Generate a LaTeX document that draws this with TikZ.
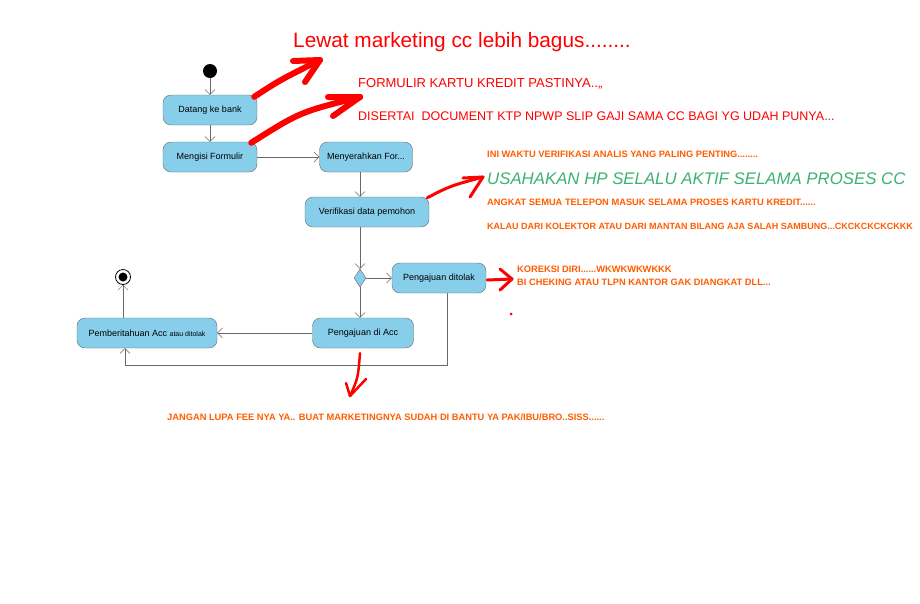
\documentclass[tikz,border=0pt]{standalone}
\usepackage[svgnames]{xcolor}
\usepackage{fontspec}
\setmainfont{Liberation Sans}
\usetikzlibrary{
  arrows.meta,
  shapes.geometric
}
\colorlet{activityFill}{SkyBlue}
\colorlet{activityLine}{DimGray}
\colorlet{flowLine}{DimGray}
\colorlet{noteRed}{Red}
\colorlet{noteOrange}{OrangeRed!75!Orange}
\colorlet{noteGreen}{MediumSeaGreen}
\colorlet{scribble}{Red}

\begin{document}
\begin{tikzpicture}[
  x=1pt,y=-1pt,
  activity/.style={
    draw=activityLine,
    fill=activityFill,
    rounded corners=8pt,
    minimum height=30pt,
    inner sep=0pt,
    font=\fontsize{9}{11}\selectfont,
  },
  flow/.style={
    draw=flowLine,
    -{Straight Barb[length=5pt,width=10pt]},
  },
  note/.style={
    anchor=west,
    inner sep=0pt,
  },
  small note/.style={
    note,
    text=noteOrange,
    font=\fontsize{9.3}{11}\bfseries,
  },
  scribble line/.style={
    draw=scribble,
    line cap=round,
    line join=round,
  }
]
\useasboundingbox[fill=white] (0,0) rectangle (920,603);

\node[circle,fill=black,minimum size=14pt,inner sep=0pt] (mulai) at (210,71) {};
\node[activity,minimum width=94pt] (datang) at (210,110) {Datang ke bank};
\node[activity,minimum width=94pt] (mengisi) at (210,157) {Mengisi Formulir};
\node[activity,minimum width=93pt] (serah) at (366,157) {Menyerahkan For...};
\node[activity,minimum width=124pt] (verif) at (367,212) {Verifikasi data pemohon};
\node[diamond,draw=activityLine,fill=activityFill,minimum width=12pt,minimum height=18pt,inner sep=0pt] (cek) at (360,278) {};
\node[activity,minimum width=94pt] (tolak) at (439,278) {Pengajuan ditolak};
\node[activity,minimum width=101pt] (acc) at (363,333) {Pengajuan di Acc};
\node[activity,minimum width=140pt] (info) at (147,333) {Pemberitahuan Acc {\fontsize{7}{8}\selectfont atau ditolak}};
\node[circle,draw=black,thick,minimum size=15pt,inner sep=0pt] (selesai) at (123,277) {};
\node[circle,fill=black,minimum size=9pt,inner sep=0pt] at (selesai) {};

\draw[flow] (mulai) -- (datang);
\draw[flow] (datang) -- (mengisi);
\draw[flow] (mengisi) -- (serah);
\draw[flow] (serah.south -| cek) -- (verif.north -| cek);
\draw[flow] (verif.south -| cek) -- (cek);
\draw[flow] (cek) -- (tolak);
\draw[flow] (cek) -- (cek |- acc.north);
\draw[flow] (acc) -- (info);
\draw[flow] (tolak.south -| 447,0) |- (125,365) -- (info.south -| 125,0);
\draw[flow] (info.north -| selesai) -- (selesai);

\node[note,text=noteRed,font=\fontsize{20.8}{24}\selectfont] (lewat) at (293,42) {Lewat marketing cc lebih bagus........};
\node[note,text=noteRed,font=\fontsize{13}{15}\selectfont] (formulir) at (358,84) {FORMULIR KARTU KREDIT PASTINYA..,,};
\node[note,text=noteRed,font=\fontsize{12.5}{15}\selectfont] (disertai) at (358,116) {DISERTAI\ \ DOCUMENT KTP NPWP SLIP GAJI SAMA CC BAGI YG UDAH PUNYA...};
\node[small note] (waktu) at (487,154) {INI WAKTU VERIFIKASI ANALIS YANG PALING PENTING........};
\node[note,text=noteGreen,font=\fontsize{16.8}{20}\itshape] (usahakan) at (487,179) {USAHAKAN HP SELALU AKTIF SELAMA PROSES CC};
\node[small note] (angkat) at (487,202) {ANGKAT SEMUA TELEPON MASUK SELAMA PROSES KARTU KREDIT......};
\node[small note,font=\fontsize{9}{11}\bfseries] (kalau) at (487,226) {KALAU DARI KOLEKTOR ATAU DARI MANTAN BILANG AJA SALAH SAMBUNG...CKCKCKCKCKKK};
\node[small note] (koreksi) at (517,269) {KOREKSI DIRI......WKWKWKWKKK};
\node[small note] (cheking) at (517,282) {BI CHEKING ATAU TLPN KANTOR GAK DIANGKAT DLL...};
\node[small note] (jangan) at (167,417) {JANGAN LUPA FEE NYA YA.. BUAT MARKETINGNYA SUDAH DI BANTU YA PAK/IBU/BRO..SISS......};

\coordinate (tip1) at (320,60);
\coordinate (tip2) at (360,97);
\coordinate (tip3) at (483,177);
\coordinate (tip4) at (512,279);
\coordinate (tip5) at (350,396);
\draw[scribble line,line width=6pt] (datang.north east) ++(-3,2) .. controls (280,80) .. (tip1);
\draw[scribble line,line width=6pt] (293,61) -- (tip1) -- (305,82);
\draw[scribble line,line width=6pt] (mengisi.north east) ++(-6,1) .. controls (300,112) .. (tip2);
\draw[scribble line,line width=6pt] (328,97) -- (tip2) -- (333,116);
\draw[scribble line,line width=3pt] (verif.north east) ++(-2,1) .. controls (450,186) .. (tip3);
\draw[scribble line,line width=3pt] (463,178) -- (tip3) -- (470,197);
\draw[scribble line,line width=3pt] (tolak.east) ++(1,2) -- (tip4);
\draw[scribble line,line width=3pt] (500,269) -- (tip4) -- (500,290);
\draw[scribble line,line width=2.5pt] (acc.south) ++(-3,5) .. controls (358,378) .. (tip5);
\draw[scribble line,line width=2.5pt] (346,383) -- (tip5) -- (366,379);
\fill[scribble] (511,314) circle (1.5);
\end{tikzpicture}
\end{document}
